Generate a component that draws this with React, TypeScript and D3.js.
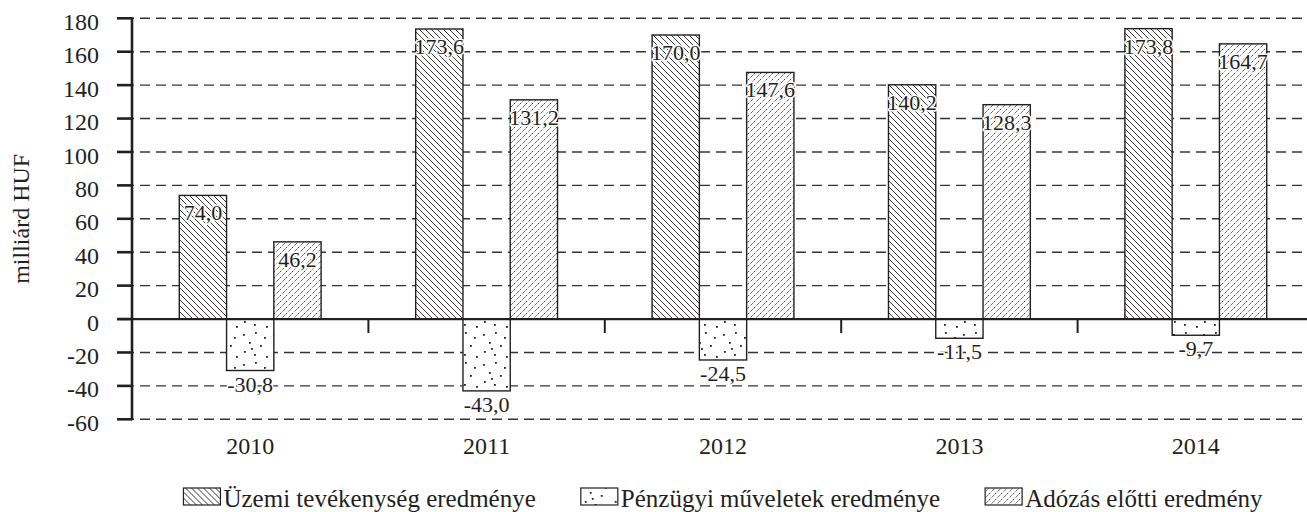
import { useEffect, useRef } from 'react'
import * as d3 from 'd3'

const W = 1307, H = 512
const M = { top: 18.3, right: -7, bottom: 92.7, left: 132 }

const years = ['2010', '2011', '2012', '2013', '2014']
const uzemi = [74.0, 173.6, 170.0, 140.2, 173.8]
const penzugyi = [-30.8, -43.0, -24.5, -11.5, -9.7]
const adozas = [46.2, 131.2, 147.6, 128.3, 164.7]
const yTicks = [-60, -40, -20, 0, 20, 40, 60, 80, 100, 120, 140, 160, 180]

const seriesKeys = ['uzemi', 'penzugyi', 'adozas']
const seriesLabels = ['Üzemi tevékenység eredménye', 'Pénzügyi műveletek eredménye', 'Adózás előtti eredmény']
const seriesValues = [uzemi, penzugyi, adozas]
const seriesFill = ['url(#pat-back)', 'url(#pat-dots)', 'url(#pat-fwd)']

const FONT = '"Liberation Serif", "Times New Roman", serif'
const INK = '#231f20'

// dot tile for the "Pénzügyi" pattern (style only)
const dotTile = [[3, 4], [15, 2], [24, 7], [9, 12], [20, 15], [4, 21], [14, 24], [26, 26], [11, 18]]

const fmt = (v: number) => v.toFixed(1).replace('.', ',')

export default function App() {
  const svgRef = useRef<SVGSVGElement>(null)

  useEffect(() => {
    const svg = d3.select(svgRef.current!)
    svg.selectAll('*').remove()

    const x0 = M.left, x1 = W - M.right
    const yTop = M.top, yBot = H - M.bottom

    const x = d3.scaleBand().domain(years).range([x0, x1]).paddingInner(0).paddingOuter(0)
    const xs = d3.scaleBand().domain(seriesKeys).range([0, x.bandwidth()]).paddingInner(0).paddingOuter(1)
    const y = d3.scaleLinear().domain([-60, 180]).range([yBot, yTop])

    // patterns
    const defs = svg.append('defs')
    const back = defs.append('pattern').attr('id', 'pat-back').attr('patternUnits', 'userSpaceOnUse')
      .attr('width', 6).attr('height', 6)
    back.append('rect').attr('width', 6).attr('height', 6).attr('fill', '#fff')
    back.append('path').attr('d', 'M-1,-1 L7,7 M-1,5 L1,7 M5,-1 L7,1')
      .attr('stroke', INK).attr('stroke-width', 0.9)

    const fwd = defs.append('pattern').attr('id', 'pat-fwd').attr('patternUnits', 'userSpaceOnUse')
      .attr('width', 6).attr('height', 6)
    fwd.append('rect').attr('width', 6).attr('height', 6).attr('fill', '#fff')
    fwd.append('path').attr('d', 'M-1,7 L7,-1 M-1,1 L1,-1 M5,7 L7,5')
      .attr('stroke', INK).attr('stroke-width', 0.9).attr('stroke-dasharray', '2 1.2')

    const dots = defs.append('pattern').attr('id', 'pat-dots').attr('patternUnits', 'userSpaceOnUse')
      .attr('width', 30).attr('height', 30)
    dots.append('rect').attr('width', 30).attr('height', 30).attr('fill', '#fff')
    dotTile.forEach(([cx, cy]) => {
      dots.append('rect').attr('x', cx).attr('y', cy).attr('width', 1.8).attr('height', 1.8).attr('fill', INK)
    })

    // dashed gridlines
    yTicks.filter(t => t !== 0).forEach(t => {
      svg.append('line')
        .attr('x1', x0).attr('x2', x1).attr('y1', y(t)).attr('y2', y(t))
        .attr('stroke', '#333').attr('stroke-width', 1.4).attr('stroke-dasharray', '10 6')
        .attr('stroke-dashoffset', -8)
    })

    // bars
    seriesKeys.forEach((key, si) => {
      const vals = seriesValues[si]
      years.forEach((yr, i) => {
        const v = vals[i]
        const bx = x(yr)! + xs(key)!
        svg.append('rect')
          .attr('x', bx).attr('width', xs.bandwidth())
          .attr('y', Math.min(y(v), y(0))).attr('height', Math.abs(y(v) - y(0)))
          .attr('fill', seriesFill[si]).attr('stroke', INK).attr('stroke-width', 1.4)
      })
    })

    // value labels
    seriesKeys.forEach((key, si) => {
      const vals = seriesValues[si]
      years.forEach((yr, i) => {
        const v = vals[i]
        const cx = x(yr)! + xs(key)! + xs.bandwidth() / 2
        const ty = v >= 0 ? y(v) + 25 : y(v) + 21
        svg.append('text')
          .attr('x', cx).attr('y', ty).attr('text-anchor', 'middle')
          .attr('font-family', FONT).attr('font-size', 22).attr('fill', INK)
          .attr('stroke', '#fff').attr('stroke-width', 3).attr('paint-order', 'stroke')
          .attr('stroke-linejoin', 'round')
          .text(fmt(v))
      })
    })

    // zero line
    svg.append('line')
      .attr('x1', x0 - 15).attr('x2', x1).attr('y1', y(0)).attr('y2', y(0))
      .attr('stroke', INK).attr('stroke-width', 2.2)

    // x ticks at band boundaries
    years.slice(1).forEach(yr => {
      svg.append('line')
        .attr('x1', x(yr)!).attr('x2', x(yr)!).attr('y1', y(0)).attr('y2', y(0) + 14)
        .attr('stroke', INK).attr('stroke-width', 2)
    })

    // y axis
    svg.append('line')
      .attr('x1', x0).attr('x2', x0).attr('y1', yTop - 1).attr('y2', yBot + 1)
      .attr('stroke', INK).attr('stroke-width', 2.6)
    yTicks.forEach(t => {
      svg.append('line')
        .attr('x1', x0 - 15).attr('x2', x0).attr('y1', y(t)).attr('y2', y(t))
        .attr('stroke', INK).attr('stroke-width', 2.6)
      svg.append('text')
        .attr('x', 99).attr('y', y(t) + 11.6).attr('text-anchor', 'end')
        .attr('font-family', FONT).attr('font-size', 24).attr('fill', INK)
        .text(String(t))
    })

    // x labels
    years.forEach(yr => {
      svg.append('text')
        .attr('x', x(yr)! + x.bandwidth() / 2).attr('y', 454).attr('text-anchor', 'middle')
        .attr('font-family', FONT).attr('font-size', 24).attr('fill', INK)
        .text(yr)
    })

    // y title
    svg.append('text')
      .attr('transform', `translate(29,${(yTop + yBot) / 2}) rotate(-90)`)
      .attr('text-anchor', 'middle')
      .attr('font-family', FONT).attr('font-size', 24).attr('fill', INK)
      .text('milliárd HUF')

    // legend
    const lg = svg.append('g')
    const items = seriesLabels.map((label, i) => {
      const g = lg.append('g')
      g.append('rect').attr('x', 0).attr('y', 488).attr('width', 37).attr('height', 17)
        .attr('fill', seriesFill[i]).attr('stroke', INK).attr('stroke-width', 1.2)
      const t = g.append('text').attr('x', 40).attr('y', 507)
        .attr('font-family', FONT).attr('font-size', 25).attr('fill', INK).text(label)
      const w = 40 + (t.node() as SVGTextElement).getComputedTextLength()
      return { g, w }
    })
    const gap = 45
    const total = d3.sum(items, d => d.w) + gap * (items.length - 1)
    let cur = (x0 + x1) / 2 - total / 2
    items.forEach(({ g, w }) => {
      g.attr('transform', `translate(${cur},0)`)
      cur += w + gap
    })
  }, [])

  return (
    <svg ref={svgRef} width={W} height={H} viewBox={`0 0 ${W} ${H}`}
      style={{ position: 'absolute', left: 0, top: 0, background: '#fff' }} />
  )
}
